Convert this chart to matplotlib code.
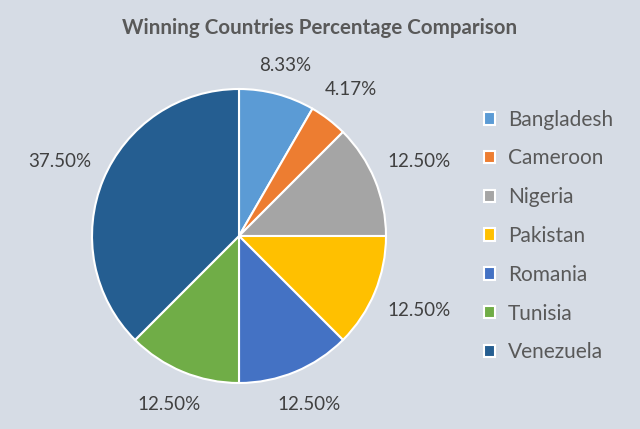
import numpy as np
import matplotlib
matplotlib.use("Agg")
import matplotlib.pyplot as plt
from matplotlib.patches import Patch

countries = ["Bangladesh", "Cameroon", "Nigeria", "Pakistan", "Romania", "Tunisia", "Venezuela"]
percentages = [8.33, 4.17, 12.50, 12.50, 12.50, 12.50, 37.50]
colors = ["#5B9BD5", "#ED7D31", "#A5A5A5", "#FFC000", "#4472C4", "#70AD47", "#255E91"]
title = "Winning Countries Percentage Comparison"

bg = "#D6DCE5"
txt = "#595959"
lbl = "#404040"
plt.rcParams['font.family'] = ['Lato', 'DejaVu Sans']

W, H = 640, 429
fig = plt.figure(figsize=(W / 100, H / 100), dpi=100, facecolor=bg)

cx, cy, R = 239, 236, 147
ax = fig.add_axes([(cx - R) / W, 1 - (cy + R) / H, 2 * R / W, 2 * R / H])
ax.set_facecolor(bg)
wedges, _ = ax.pie(percentages, colors=colors, startangle=90, counterclock=False,
                   radius=1.0, wedgeprops=dict(edgecolor="white", linewidth=1.5))
ax.set_xlim(-1, 1)
ax.set_ylim(-1, 1)
ax.set_aspect("equal")
ax.axis("off")

fig.canvas.draw()
renderer = fig.canvas.get_renderer()
gap = 15.0  # px
for w, p in zip(wedges, percentages):
    th = np.deg2rad((w.theta1 + w.theta2) / 2)
    t = ax.text(0, 0, f"{p:.2f}%", fontsize=13.5, color=lbl, ha="center", va="center")
    bb = t.get_window_extent(renderer)
    hw, hh = bb.width / 2, bb.height / 2
    ext = hw * abs(np.cos(th)) + hh * abs(np.sin(th))
    r = (R + gap + ext) / R
    t.set_position((r * np.cos(th), r * np.sin(th)))

fig.text(0.5, 1 - 28 / H, title, ha="center", va="center", fontsize=14.8,
         fontweight="bold", color=txt)

handles = [Patch(facecolor=c, edgecolor="white", linewidth=1.5) for c in colors]
leg = fig.legend(handles, countries, loc="center left", bbox_to_anchor=(465 / W, 1 - 236 / H),
                 frameon=False, fontsize=15, labelcolor=txt, handlelength=0.55,
                 handleheight=0.55, handletextpad=0.6, labelspacing=0.9)

fig.savefig("out.png", dpi=100, facecolor=bg)
